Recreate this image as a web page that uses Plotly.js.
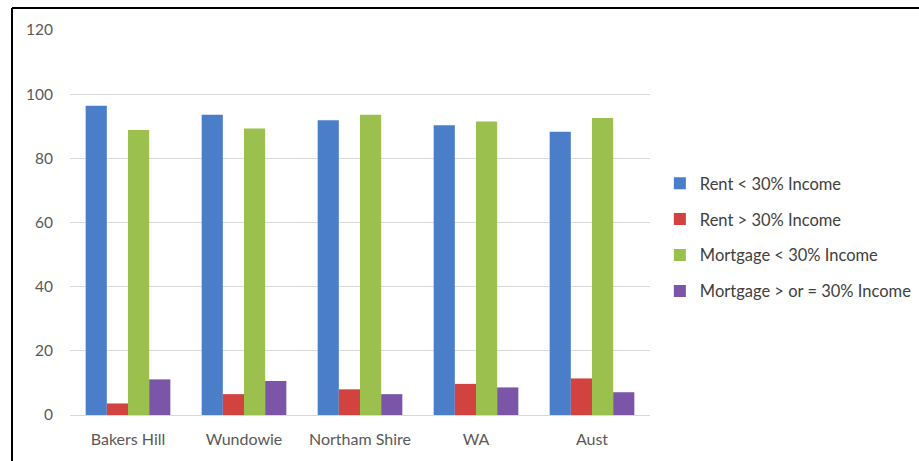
<!DOCTYPE html>
<html>
<head>
<meta charset="utf-8">
<script src="https://cdn.plot.ly/plotly-3.0.1.min.js"></script>
<style>
html,body{margin:0;padding:0;background:#fff;}
#chart{width:919px;height:461px;}
</style>
</head>
<body>
<div id="chart"></div>
<script>
const categories = ["Bakers Hill", "Wundowie", "Northam Shire", "WA", "Aust"];
const rentUnder30 = [96.4, 93.6, 91.9, 90.3, 88.3];
const rentOver30 = [3.6, 6.5, 8.0, 9.7, 11.4];
const mortgageUnder30 = [88.8, 89.3, 93.6, 91.5, 92.6];
const mortgageOver30 = [11.1, 10.6, 6.5, 8.6, 7.1];
const seriesNames = ["Rent < 30% Income", "Rent > 30% Income", "Mortgage < 30% Income", "Mortgage > or = 30% Income"];
const seriesColors = ["#4A7EC8", "#D2423E", "#9BC04D", "#7B55A8"];
const yTicks = [0, 20, 40, 60, 80, 100, 120];

const seriesValues = [rentUnder30, rentOver30, mortgageUnder30, mortgageOver30];
const traces = seriesValues.map((vals, i) => ({
  type: "bar",
  x: categories,
  y: vals,
  name: seriesNames[i],
  legendgroup: "g" + i,
  marker: {color: seriesColors[i], line: {width: 0}},
  hoverinfo: "x+y+name"
}));

const font = "Lato, 'Open Sans', sans-serif";
const layout = {
  width: 919,
  height: 461,
  margin: {l: 70, r: 269, t: 30, b: 46, autoexpand: false},
  paper_bgcolor: "#ffffff",
  plot_bgcolor: "#ffffff",
  barmode: "group",
  bargap: 0.27,
  bargroupgap: 0,
  font: {family: font, size: 15, color: "#595959"},
  xaxis: {
    type: "category",
    showgrid: false,
    showline: false,
    zeroline: false,
    ticks: "",
    tickfont: {family: font, size: 16, color: "#595959"},
    ticklabelstandoff: 13
  },
  yaxis: {
    range: [0, 120],
    tickvals: yTicks,
    ticktext: yTicks.map(String),
    showgrid: true,
    gridcolor: "#d9d9d9",
    gridwidth: 1,
    zeroline: true,
    zerolinecolor: "#d9d9d9",
    zerolinewidth: 1,
    showline: false,
    ticks: "",
    tickfont: {family: font, size: 15.5, color: "#595959"},
    ticklabelstandoff: 16
  },
  legend: {
    x: 1.017,
    xanchor: "left",
    y: 0.647,
    yanchor: "top",
    bgcolor: "rgba(0,0,0,0)",
    font: {family: font, size: 16.5, color: "#404040"},
    tracegroupgap: 11.5,
    itemwidth: 30
  },
  showlegend: true,
  shapes: [
    {type: "line", xref: "paper", yref: "paper", x0: -0.1, x1: 1.47, y0: 1.057, y1: 1.057, line: {color: "#000", width: 2}},
    {type: "line", xref: "paper", yref: "paper", x0: -0.1, x1: -0.1, y0: 1.057, y1: -0.13, line: {color: "#000", width: 2}}
  ]
};

Plotly.newPlot("chart", traces, layout, {displayModeBar: false, staticPlot: true});
</script>
</body>
</html>
